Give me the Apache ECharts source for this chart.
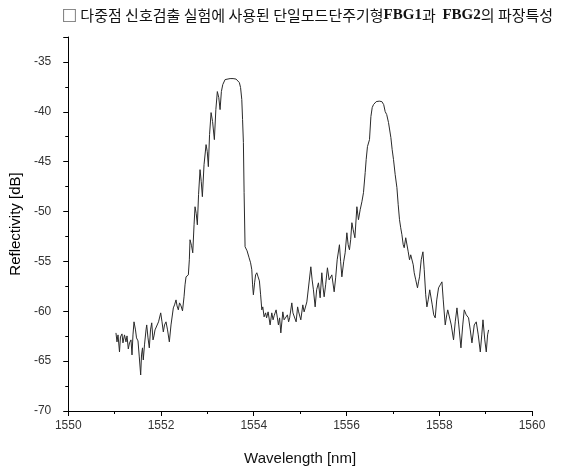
<!DOCTYPE html>
<html>
<head>
<meta charset="utf-8">
<script src="https://cdn.jsdelivr.net/npm/echarts@6/dist/echarts.min.js"></script>
<style>html,body{margin:0;padding:0;background:#fff}#c{width:565px;height:472px}</style>
</head>
<body>
<div id="c"></div>
<script>
var wavelength = [
1551.029,1551.051,1551.073,1551.105,1551.126,1551.159,1551.180,1551.213,1551.245,1551.267,
1551.295,1551.321,1551.353,1551.375,1551.396,1551.418,1551.450,1551.472,1551.504,1551.532,
1551.562,1551.580,1551.601,1551.618,1551.644,1551.677,1551.692,1551.720,1551.748,1551.774,
1551.800,1551.828,1551.849,1551.871,1551.908,1551.947,1551.994,1552.022,1552.050,1552.076,
1552.108,1552.141,1552.180,1552.216,1552.266,1552.292,1552.324,1552.346,1552.374,1552.400,
1552.432,1552.464,1552.497,1552.518,1552.540,1552.590,1552.611,
1552.626,1552.659,1552.685,1552.713,1552.734,1552.760,1552.784,1552.810,1552.842,1552.868,
1552.892,1552.928,1552.972,1552.998,1553.021,1553.047,1553.080,1553.112,1553.151,1553.183,
1553.215,1553.246,1553.274,1553.302,1553.332,1553.382,1553.425,1553.490,1553.554,1553.619,
1553.662,1553.690,1553.716,1553.742,1553.759,1553.777,1553.792,1553.813,1553.856,1553.900,
1553.932,1553.958,1553.975,1553.992,1554.018,1554.040,1554.066,1554.094,1554.122,1554.148,
1554.174,1554.195,1554.223,
1554.256,1554.277,1554.310,1554.353,1554.389,1554.417,1554.439,1554.482,1554.510,1554.532,
1554.558,1554.584,1554.627,1554.655,1554.676,1554.726,1554.752,1554.774,1554.821,1554.845,
1554.871,1554.914,1554.946,1554.968,1555.015,1555.058,1555.086,1555.108,1555.145,1555.179,
1555.231,1555.259,1555.287,1555.324,1555.356,1555.395,1555.432,1555.468,1555.496,1555.518,
1555.550,1555.589,1555.626,1555.684,1555.734,1555.766,1555.799,1555.848,1555.874,1555.900,
1555.939,1555.971,1556.008,1556.036,1556.064,1556.090,1556.116,1556.144,1556.181,1556.224,
1556.258,1556.295,1556.332,1556.366,1556.403,1556.424,1556.452,1556.496,1556.526,1556.554,
1556.582,1556.640,1556.705,1556.763,1556.802,1556.834,1556.867,1556.906,1556.957,1556.985,
1557.014,1557.050,1557.087,1557.115,1557.143,1557.169,1557.195,1557.223,1557.244,1557.277,
1557.303,1557.331,1557.359,1557.385,1557.411,1557.439,1557.460,1557.493,1557.531,1557.553,
1557.575,1557.611,1557.648,1557.676,1557.708,1557.734,1557.762,1557.795,1557.821,1557.849,
1557.881,1557.913,1557.946,1557.985,1558.021,1558.058,1558.086,1558.129,1558.162,1558.183,
1558.222,1558.259,1558.308,1558.345,1558.382,1558.421,1558.468,1558.507,1558.539,1558.582,
1558.632,1558.669,1558.705,1558.755,1558.798,1558.841,1558.885,1558.917,1558.943,1558.982,
1559.014,1559.042,1559.064
];
var reflectivity = [
-62.17,-63.07,-62.37,-64.08,-62.57,-62.27,-63.17,-62.37,-63.07,-62.47,
-63.78,-63.17,-62.87,-64.38,-62.37,-61.06,-61.87,-62.67,-62.97,-64.58,
-66.39,-64.38,-63.67,-64.88,-63.37,-61.87,-61.37,-62.67,-63.67,-61.87,
-61.16,-62.87,-62.47,-61.87,-61.97,-61.06,-60.16,-61.06,-62.07,-61.37,
-61.06,-61.87,-63.07,-61.37,-59.66,-59.36,-58.86,-59.46,-59.86,-59.16,
-59.46,-59.96,-58.55,-57.35,-56.55,-56.35,-54.84,
-52.83,-53.43,-54.14,-51.33,-49.52,-50.22,-51.33,-48.31,-45.80,-47.01,
-48.51,-45.30,-43.29,-44.00,-45.50,-42.29,-40.08,-40.98,-42.79,-39.78,
-37.97,-38.57,-39.78,-37.97,-37.27,-36.77,-36.67,-36.67,-36.67,-36.72,
-36.82,-37.07,-37.57,-38.77,-40.78,-43.09,-48.11,-53.53,-53.94,-54.64,
-55.14,-55.84,-57.35,-58.35,-57.15,-56.35,-56.14,-56.55,-56.95,-58.35,
-59.86,-59.56,-60.56,
-60.16,-60.66,-60.06,-61.37,-60.16,-60.86,-60.46,-59.86,-60.66,-61.37,
-60.66,-62.17,-60.06,-60.86,-60.66,-60.36,-61.06,-60.66,-59.16,-60.16,
-60.36,-61.06,-59.56,-60.06,-60.86,-59.36,-60.06,-59.86,-59.06,-59.06,
-55.54,-56.85,-57.85,-59.56,-57.85,-57.15,-58.65,-56.14,-57.65,-58.55,
-57.35,-55.64,-56.85,-56.35,-58.05,-56.65,-54.84,-53.33,-55.04,-56.55,
-55.04,-54.14,-52.13,-53.33,-53.84,-52.83,-51.12,-51.83,-52.63,-49.52,
-50.82,-49.82,-49.02,-48.11,-46.10,-44.80,-43.49,-42.79,-40.48,-39.58,
-39.28,-38.98,-38.93,-38.98,-39.28,-39.98,-40.28,-41.08,-42.59,-43.80,
-44.80,-46.31,-47.61,-49.32,-50.82,-51.63,-52.33,-53.33,-53.63,-52.63,
-52.83,-54.04,-54.84,-54.34,-54.14,-55.34,-56.14,-56.85,-57.65,-57.05,
-56.55,-54.84,-54.04,-55.84,-58.35,-59.56,-58.86,-57.85,-58.05,-59.36,
-60.36,-60.66,-58.86,-57.65,-57.35,-57.05,-58.86,-61.37,-60.36,-59.86,
-60.06,-61.37,-62.87,-61.06,-59.66,-61.37,-63.67,-61.37,-59.86,-60.36,
-60.66,-61.87,-63.17,-61.37,-61.06,-62.37,-64.08,-62.37,-60.86,-62.87,
-64.08,-62.37,-61.87
];
var xTicks = {min: 1550, max: 1560, interval: 2};
var yTicks = {min: -70, max: -32.5, interval: 5};

var seriesData = wavelength.map(function (w, i) { return [w, reflectivity[i]]; });

var chart = echarts.init(document.getElementById('c'), null, {renderer: 'canvas'});
chart.setOption({
  animation: false,
  backgroundColor: '#fff',
  title: {
    left: 57, top: 3,
    text: '{a|□ 다중점 신호검출 실험에 사용된 단일모드단주기형}{b|FBG1}{a|과  }{b|FBG2}{a|의 파장특성}',
    textStyle: {
      rich: {
        a: {fontFamily: 'Noto Sans CJK KR', fontSize: 15, color: '#111', fontWeight: 'normal'},
        b: {fontFamily: 'Liberation Serif', fontSize: 15, color: '#111', fontWeight: 'bold'}
      }
    }
  },
  grid: {left: 68, right: 33, top: 37, bottom: 61, containLabel: false},
  xAxis: {
    type: 'value',
    min: xTicks.min, max: xTicks.max, interval: xTicks.interval,
    name: 'Wavelength [nm]',
    nameLocation: 'middle', nameGap: 40,
    nameTextStyle: {fontFamily: 'Liberation Sans', fontSize: 15, color: '#111'},
    axisLine: {show: true, lineStyle: {color: '#000', width: 1}},
    axisTick: {show: true, inside: false, length: 5, lineStyle: {color: '#000'}},
    minorTick: {show: true, splitNumber: 2, length: 3, lineStyle: {color: '#000'}},
    splitLine: {show: false},
    axisLabel: {fontFamily: 'Liberation Sans', fontSize: 12, color: '#333', margin: 9,
      formatter: function (v) { return String(v); }}
  },
  yAxis: {
    type: 'value',
    min: yTicks.min, max: yTicks.max, interval: yTicks.interval,
    name: 'Reflectivity [dB]',
    nameLocation: 'middle', nameGap: 32,
    nameTextStyle: {fontFamily: 'Liberation Sans', fontSize: 15, color: '#000'},
    axisLine: {show: true, lineStyle: {color: '#000', width: 1}},
    axisTick: {show: true, inside: false, length: 5, lineStyle: {color: '#000'}},
    minorTick: {show: true, splitNumber: 2, length: 3, lineStyle: {color: '#000'}},
    splitLine: {show: false},
    axisLabel: {fontFamily: 'Liberation Sans', fontSize: 12, color: '#333', margin: 17, showMaxLabel: false,
      formatter: function (v) { return String(v); }}
  },
  series: [{
    type: 'line',
    data: seriesData,
    showSymbol: false,
    symbol: 'none',
    smooth: false,
    lineStyle: {color: '#2a2a2a', width: 1}
  }]
});
</script>
</body>
</html>
